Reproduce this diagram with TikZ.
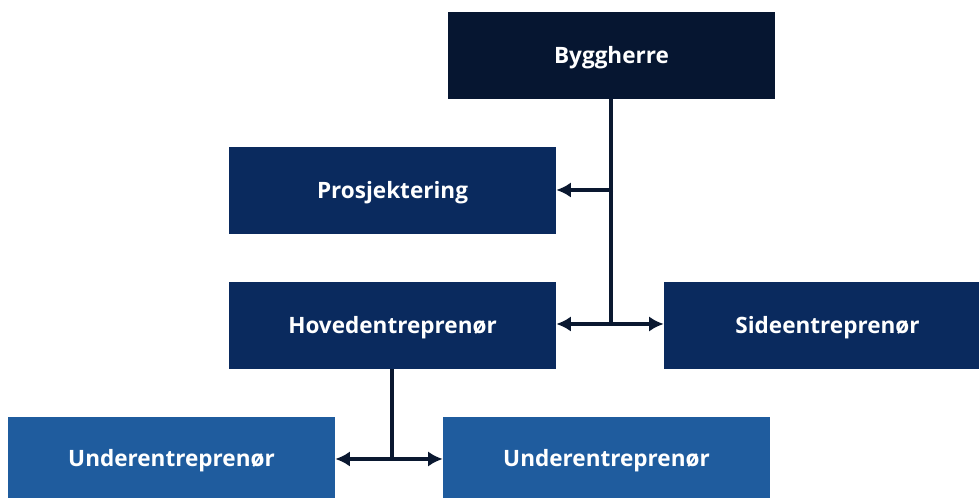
\documentclass[tikz,border=0pt]{standalone}
\usepackage{fontspec}
\setmainfont{Open Sans}
\usetikzlibrary{arrows.meta}
\definecolor{topbox}{HTML}{061631}
\definecolor{midbox}{HTML}{0A2A5E}
\definecolor{lowbox}{HTML}{1F5C9E}
\definecolor{conn}{HTML}{0A1830}
\begin{document}
\begin{tikzpicture}[x=0.75pt,y=-0.75pt,
  box/.style={draw=none,minimum width=327*0.75pt,minimum height=87*0.75pt,inner sep=0pt,
    text height=12pt,text depth=0pt,
    text=white,font=\bfseries\fontsize{16.9}{18}\selectfont},
  link/.style={draw=conn,line width=3.6pt},
  arr/.style={draw=conn,line width=3pt,-{Latex[length=11pt,width=11.5pt]}}]
\useasboundingbox (0,0) rectangle (979,498);
\clip (0,0) rectangle (979,498);
\node[box,fill=topbox] (byg) at (611.5,55.5) {Byggherre};
\node[box,fill=midbox] (pro) at (392.5,190.5) {Prosjektering};
\node[box,fill=midbox] (hov) at (392.5,325.5) {Hovedentreprenør};
\node[box,fill=midbox] (sid) at (827.5,325.5) {Sideentreprenør};
\node[box,fill=lowbox,minimum height=83*0.75pt] (ul) at (171.5,458.5) {Underentreprenør};
\node[box,fill=lowbox,minimum height=83*0.75pt] (ur) at (606.5,458.5) {Underentreprenør};
\coordinate (j1) at (611,190);
\coordinate (j2) at (611,324);
\coordinate (j3) at (392,459);
\draw[link] (byg.south -| j1) -- ([yshift=-1.5pt]j2);
\draw[arr] ([xshift=1.5pt]j1) -- (pro.east |- j1);
\draw[arr] (j2) -- (hov.east |- j2);
\draw[arr] (j2) -- (sid.west |- j2);
\draw[link] (hov.south -| j3) -- ([yshift=-1.5pt]j3);
\draw[arr] (j3) -- (ul.east |- j3);
\draw[arr] (j3) -- (ur.west |- j3);
\end{tikzpicture}
\end{document}
